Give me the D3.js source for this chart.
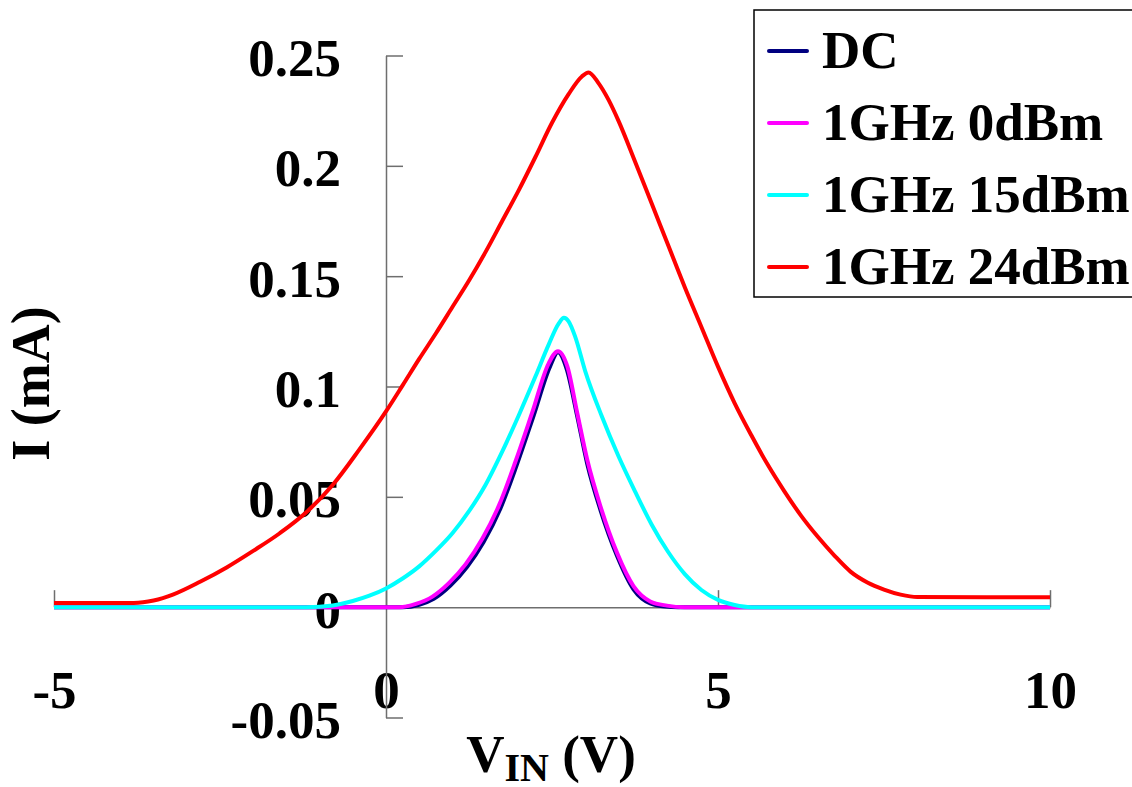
<!DOCTYPE html>
<html>
    <head>
        <title>I - VIN</title>
        <style>
body {
    margin: 0;
    background: #fff;
}

svg {
    display: block;
}

text {
    font-family: "Liberation Serif", "Times New Roman", serif;
    font-weight: bold;
    font-size: 53px;
    fill: #000;
}

.axis path,
.axis line {
    stroke: #6e6e6e;
    stroke-width: 1.5;
}

.series {
    fill: none;
    stroke-width: 4;
    stroke-linejoin: round;
    stroke-linecap: butt;
}
        </style>
    </head>
    <body>
        <div id="chart"></div>
        <script src="https://d3js.org/d3.v7.min.js"></script>
        <script>

// tick values and labels
const xTicks = [-5, 0, 5, 10]
const xTickLabels = ["-5", "0", "5", "10"]
const yTicks = [-0.05, 0, 0.05, 0.1, 0.15, 0.2, 0.25]
const yTickLabels = ["-0.05", "0", "0.05", "0.1", "0.15", "0.2", "0.25"]

const seriesNames = ["DC", "1GHz 0dBm", "1GHz 15dBm", "1GHz 24dBm"]
const seriesColors = ["#000080", "#ff00ff", "#00ffff", "#ff0000"]

// DC
const dcV = [-5, 0.25, 0.5, 0.72, 0.97, 1.22, 1.47, 1.72, 1.97, 2.22, 2.47, 2.59, 2.72, 2.88, 3.03, 3.23, 3.48, 3.73, 3.98, 4.2, 4.4, 10]
const dcI = [0, 0, 0.0011, 0.0038, 0.0098, 0.0182, 0.0295, 0.0445, 0.0645, 0.0865, 0.109, 0.1155, 0.108, 0.0865, 0.065, 0.044, 0.0232, 0.008, 0.0017, 0.0003, 0, 0]

// 1GHz 0dBm
const p0V = [-5, 0.2, 0.45, 0.7, 0.95, 1.2, 1.45, 1.7, 1.95, 2.2, 2.45, 2.59, 2.73, 2.88, 3.03, 3.23, 3.48, 3.73, 3.98, 4.23, 4.5, 10]
const p0I = [0, 0, 0.0015, 0.0048, 0.011, 0.0195, 0.031, 0.046, 0.066, 0.088, 0.1105, 0.116, 0.1092, 0.088, 0.0669, 0.0457, 0.0246, 0.0094, 0.0026, 0.0007, 0, 0]

// 1GHz 15dBm
const p15V = [-5, -1.2, -0.8, -0.5, -0.25, 0, 0.25, 0.5, 0.75, 1.0, 1.25, 1.5, 1.75, 2.0, 2.25, 2.45, 2.6, 2.68, 2.75, 2.85, 3.0, 3.25, 3.5, 3.75, 4.0, 4.25, 4.5, 4.75, 5.0, 5.25, 5.5, 10]
const p15I = [0, 0, 0.0008, 0.0028, 0.0052, 0.0085, 0.013, 0.0185, 0.0255, 0.0335, 0.0435, 0.0555, 0.0705, 0.087, 0.1045, 0.119, 0.1285, 0.1311, 0.1295, 0.1225, 0.107, 0.0865, 0.0685, 0.0525, 0.0375, 0.025, 0.015, 0.0078, 0.0033, 0.001, 0, 0]

// 1GHz 24dBm
const p24V = [-5, -3.8, -3.5, -3.2, -2.8, -2.4, -2.0, -1.6, -1.2, -0.8, -0.4, 0, 0.25, 0.5, 0.75, 1.0, 1.25, 1.5, 1.75, 2.0, 2.25, 2.5, 2.75, 2.95, 3.05, 3.2, 3.35, 3.5, 3.75, 4.0, 4.25, 4.5, 4.75, 5.0, 5.25, 5.5, 5.75, 6.0, 6.25, 6.5, 6.75, 7.0, 7.25, 7.5, 7.75, 8.0, 10]
const p24I = [0.0019, 0.0019, 0.003, 0.0058, 0.0115, 0.018, 0.0255, 0.0335, 0.043, 0.0555, 0.0715, 0.0887, 0.1005, 0.1125, 0.124, 0.136, 0.148, 0.161, 0.175, 0.189, 0.204, 0.2195, 0.2325, 0.2405, 0.2423, 0.2375, 0.23, 0.2205, 0.202, 0.183, 0.164, 0.145, 0.127, 0.109, 0.0925, 0.078, 0.0645, 0.0525, 0.0415, 0.032, 0.0235, 0.016, 0.0112, 0.008, 0.0057, 0.0046, 0.0045]

const series = [
    {name: seriesNames[0], color: seriesColors[0], v: dcV, i: dcI},
    {name: seriesNames[1], color: seriesColors[1], v: p0V, i: p0I},
    {name: seriesNames[2], color: seriesColors[2], v: p15V, i: p15I},
    {name: seriesNames[3], color: seriesColors[3], v: p24V, i: p24I}
]

const width = 1132
const height = 787

const x = d3.scaleLinear()
    .domain([-5, 10])
    .range([54, 1050])
const y = d3.scaleLinear()
    .domain([-0.05, 0.25])
    .range([717.5, 55.5])

const svg = d3.select("#chart").append("svg")
    .attr("width", width)
    .attr("height", height)

// x axis crosses at I = 0, ticks point up into the plot
svg.append("g")
    .attr("class", "axis")
    .attr("transform", "translate(0," + y(0) + ")")
    .call(d3.axisBottom(x)
        .tickValues(xTicks)
        .tickFormat((d, k) => xTickLabels[k])
        .tickSizeInner(-17)
        .tickSizeOuter(0))
    .call(g => g.selectAll("text")
        .attr("y", 101)
        .attr("dy", 0))

// y axis crosses at V = 0, ticks point right
svg.append("g")
    .attr("class", "axis")
    .attr("transform", "translate(" + x(0) + ",0)")
    .call(d3.axisLeft(y)
        .tickValues(yTicks)
        .tickFormat((d, k) => yTickLabels[k])
        .tickSizeInner(-17)
        .tickSizeOuter(0)
        .tickPadding(45))
    .call(g => g.selectAll("text").attr("dy", "0.38em"))

// curves
const line = d3.line()
    .x(d => x(d[0]))
    .y(d => y(d[1]))
    .curve(d3.curveMonotoneX)

svg.selectAll(".series")
    .data(series)
    .enter()
    .append("path")
    .attr("class", "series")
    .attr("stroke", d => d.color)
    .attr("d", d => line(d.v.map((v, k) => [v, d.i[k]])))

// axis titles
svg.append("text")
    .attr("transform", "translate(49," + 383.5 + ") rotate(-90)")
    .attr("text-anchor", "middle")
    .style("font-size", "54px")
    .text("I (mA)")

const xTitle = svg.append("text")
    .attr("x", 551)
    .attr("y", 772)
    .attr("text-anchor", "middle")
xTitle.append("tspan").text("V")
xTitle.append("tspan")
    .style("font-size", "40px")
    .attr("dy", 9)
    .text("IN")
xTitle.append("tspan")
    .attr("dy", -9)
    .text(" (V)")

// legend
const legend = svg.append("g")
    .attr("transform", "translate(754,10)")

legend.append("rect")
    .attr("width", 420)
    .attr("height", 287)
    .attr("fill", "#fff")
    .attr("stroke", "#000")
    .attr("stroke-width", 1.5)

const item = legend.selectAll(".item")
    .data(series)
    .enter()
    .append("g")
    .attr("class", "item")
    .attr("transform", (d, k) => "translate(0," + (41 + k * 72) + ")")

item.append("line")
    .attr("x1", 15)
    .attr("x2", 53)
    .attr("stroke", d => d.color)
    .attr("stroke-width", 4)
    .attr("stroke-linecap", "round")

item.append("text")
    .attr("x", 68)
    .attr("y", 17)
    .text(d => d.name)
        </script>
    </body>
</html>
